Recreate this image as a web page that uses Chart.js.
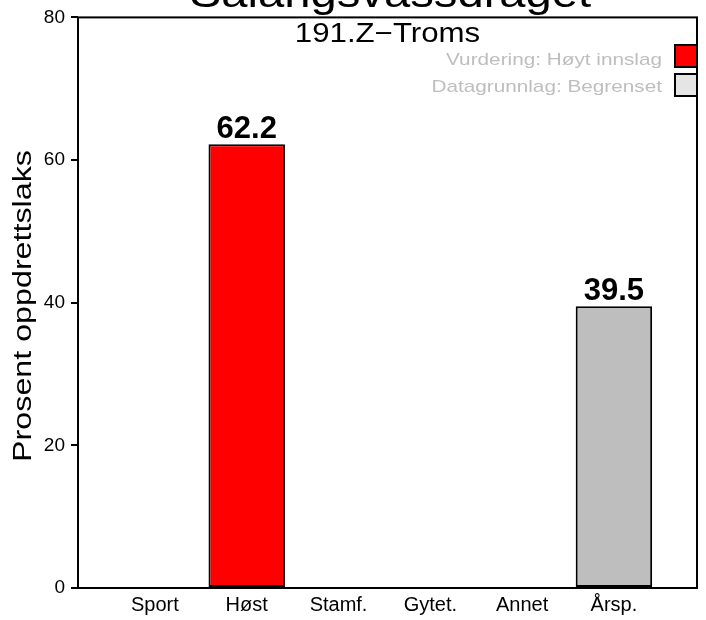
<!DOCTYPE html>
<html>
<head>
<meta charset="utf-8">
<script src="https://cdn.jsdelivr.net/npm/chart.js@4"></script>
<style>
  html, body { margin: 0; padding: 0; background: #fff; }
</style>
</head>
<body>
<canvas id="chart" width="706" height="620"></canvas>
<script>
const categories = ['Sport', 'Høst', 'Stamf.', 'Gytet.', 'Annet', 'Årsp.'];
const values = [0, 62.2, 0, 0, 0, 39.5];
const barColors = ['#BEBEBE', '#FF0000', '#BEBEBE', '#BEBEBE', '#BEBEBE', '#BEBEBE'];
const yTicks = [0, 20, 40, 60, 80];
const legendLabels = ['Vurdering: Høyt innslag', 'Datagrunnlag: Begrenset'];
const legendColors = ['#FF0000', '#E5E5E5'];
const mainTitle = 'Salangsvassdraget';
const subTitle = '191.Z−Troms';
const yTitle = 'Prosent oppdrettslaks';

const FONT = '"Liberation Sans", Arial, sans-serif';

// text a bit wider than the font, like the R png
function wideText(ctx, text, x, y, size, align, sx) {
    ctx.save();
    ctx.translate(x, y);
    ctx.scale(sx, 1);
    ctx.font = size + 'px ' + FONT;
    ctx.textAlign = align;
    ctx.textBaseline = 'alphabetic';
    ctx.fillText(text, 0, 0);
    ctx.restore();
}

// box, titles, legend and bar labels
const decor = {
    id: 'decor',
    afterDatasetsDraw(chart) {
        const ctx = chart.ctx;
        const a = chart.chartArea;
        const cx = (a.left + a.right) / 2;
        ctx.save();
        ctx.fillStyle = '#000';

        // value labels
        const meta = chart.getDatasetMeta(0);
        ctx.font = 'bold 31px ' + FONT;
        ctx.textAlign = 'center';
        ctx.textBaseline = 'alphabetic';
        meta.data.forEach((el, i) => {
            if (values[i] > 0) ctx.fillText(values[i].toFixed(1), el.x, el.y - 6);
        });

        // titles
        wideText(ctx, mainTitle, cx + 3, 7, 40, 'center', 1.18);
        wideText(ctx, subTitle, cx, 42, 27, 'center', 1.156);

        // legend
        ctx.fillStyle = '#BEBEBE';
        wideText(ctx, legendLabels[0], 662, 65, 17, 'right', 1.22);
        wideText(ctx, legendLabels[1], 662, 92, 17, 'right', 1.22);
        ctx.save();
        ctx.beginPath();
        ctx.rect(a.left, a.top, a.right - a.left, a.bottom - a.top);
        ctx.clip();
        ctx.lineWidth = 2;
        ctx.strokeStyle = '#000';
        [45, 74].forEach((y, i) => {
            ctx.fillStyle = legendColors[i];
            ctx.fillRect(675, y, 40, 22);
            ctx.strokeRect(675, y, 40, 22);
        });
        ctx.restore();

        // y title
        ctx.save();
        ctx.fillStyle = '#000';
        ctx.translate(31, 306);
        ctx.rotate(-Math.PI / 2);
        wideText(ctx, yTitle, 0, 0, 26, 'center', 1.24);
        ctx.restore();

        // box
        ctx.lineWidth = 2;
        ctx.strokeStyle = '#000';
        ctx.strokeRect(a.left, a.top, a.right - a.left, a.bottom - a.top);
        ctx.restore();
    }
};

new Chart(document.getElementById('chart'), {
    type: 'bar',
    data: {
        datasets: [{
            data: values.map((v, i) => ({ x: i, y: v })),
            backgroundColor: barColors,
            borderColor: '#000',
            borderWidth: 2,
            borderSkipped: false,
            barPercentage: 0.833,
            categoryPercentage: 1
        }]
    },
    options: {
        responsive: false,
        animation: false,
        devicePixelRatio: 1,
        layout: { padding: { top: 16, right: 9, left: 0, bottom: 0 } },
        plugins: {
            legend: { display: false },
            tooltip: { enabled: false }
        },
        scales: {
            x: {
                type: 'linear',
                offset: false,
                min: -0.838,
                max: 5.905,
                afterFit(s) { s.height = 32; },
                grid: { display: false, drawTicks: false },
                border: { display: false },
                ticks: {
                    stepSize: 1,
                    includeBounds: false,
                    autoSkip: false,
                    maxRotation: 0,
                    padding: 5,
                    color: '#000',
                    font: { family: FONT, size: 20 },
                    callback: v => categories[v] ?? ''
                }
            },
            y: {
                min: 0,
                max: 80,
                afterFit(s) { s.width = 78; },
                afterBuildTicks(s) { s.ticks = yTicks.map(v => ({ value: v })); },
                grid: { drawOnChartArea: false, drawTicks: true, tickLength: 7, color: '#000', lineWidth: 2 },
                border: { display: false },
                ticks: {
                    padding: 6,
                    color: '#000',
                    font: { family: FONT, size: 19 }
                }
            }
        }
    },
    plugins: [decor]
});
</script>
</body>
</html>
